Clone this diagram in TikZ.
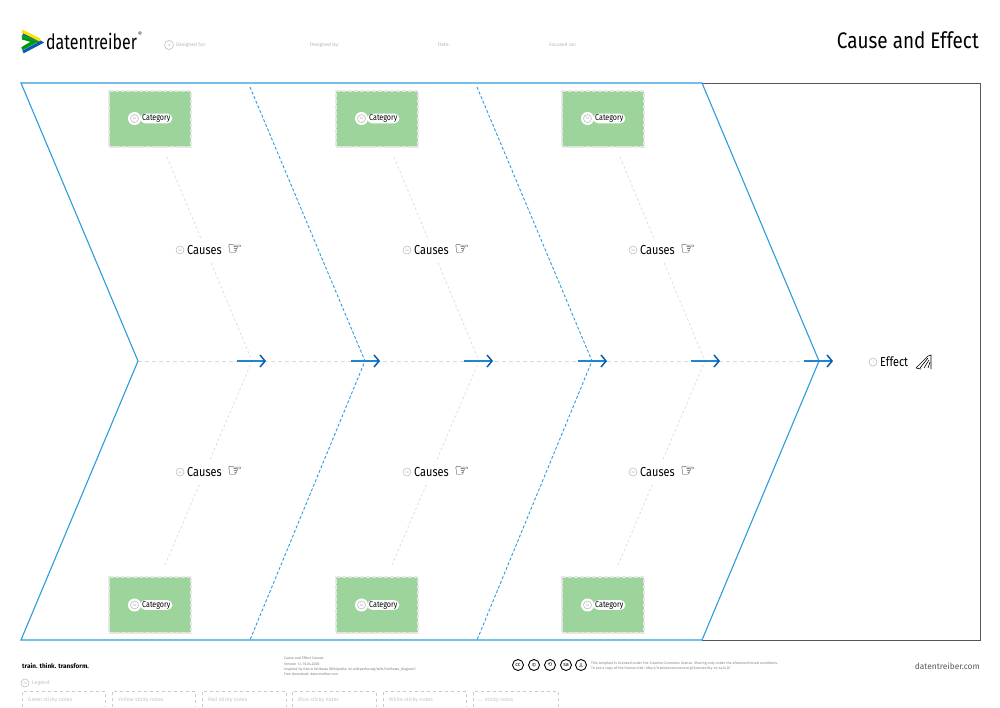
\documentclass[tikz,border=0pt]{standalone}
\usepackage{fontspec}
\setmainfont{Fira Sans}
\newfontfamily\symfont{DejaVu Sans}
\newfontfamily\narrowfont[FakeStretch=0.84]{Fira Sans}
\newfontfamily\logofont[FakeStretch=0.76]{Fira Sans}
\usetikzlibrary{arrows.meta}
\definecolor{lineblue}{HTML}{2E9BDC}
\definecolor{shaftblue}{HTML}{1E86CF}
\definecolor{headblue}{HTML}{0A5BB0}
\definecolor{notegreen}{HTML}{9DD49B}
\definecolor{boneGray}{HTML}{DADADA}
\definecolor{edgeGray}{HTML}{E6E6E6}
\definecolor{faint}{HTML}{B5B5B5}
\definecolor{frameGray}{HTML}{555555}
\newcommand{\fs}[1]{\fontsize{#1}{#1}\selectfont}
\newcommand{\moreNotes}{... sticky notes}
\tikzset{
  x=1pt,y=-1pt,
  outline/.style={line width=1.1pt,draw=lineblue},
  ribdash/.style={line width=.9pt,draw=lineblue,dash pattern=on 3pt off 2pt},
  bone/.style={line width=.7pt,draw=boneGray,dash pattern=on 2.5pt off 2.5pt},
  spine/.style={line width=.7pt,draw=boneGray,dash pattern=on 4pt off 3pt},
  flow/.style={line width=1.5pt,draw=shaftblue,-{Straight Barb[color=headblue,length=5pt,width=12pt,line width=1.5pt]}},
  notebox/.style={rectangle,fill=notegreen,draw=edgeGray,line width=2.4pt,dash pattern=on 4.5pt off 1.5pt,minimum width=82pt,minimum height=56pt,inner sep=0pt},
  chip/.style={fill=white,rounded corners=5pt,inner xsep=2pt,inner ysep=1pt,font=\narrowfont\fs{8.5},text=black},
  num/.style={circle,draw=faint,line width=.5pt,minimum size=#1,inner sep=0pt,font=\fs{3.5},text=faint,fill=white},
  num/.default=8pt,
  blank/.style={fill=white,inner sep=1pt,font=\narrowfont\fs{13},text=black},
  head/.style={inner sep=0pt,font=\fs{5},text=faint,anchor=west},
  tiny/.style={inner sep=0pt,text=faint!70!black,anchor=north west,align=left,font=\fontsize{3.6}{5.2}\selectfont},
  legendbox/.style={line width=.6pt,draw=faint!70,dash pattern=on 3pt off 3pt},
  legendtext/.style={inner sep=0pt,font=\fs{5.3},text=faint!80,anchor=west},
  ccicon/.style={circle,draw=black,line width=.9pt,minimum size=11pt,inner sep=0pt,font=\fs{5.5},text=black},
}
\begin{document}
\begin{tikzpicture}
\useasboundingbox (0,0) rectangle (1000,707);
% frame
\coordinate (tl) at (21,83); \coordinate (bl) at (21,640);
\coordinate (tail) at (138,361); \coordinate (tip) at (819,361);
\coordinate (tr) at (702,83); \coordinate (br) at (702,640);
\draw[line width=.9pt,draw=frameGray] (tr) -- (980,83) -- (980,640) -- (br);
\draw[spine] (tail) -- (tip);
\draw[outline] (tail) -- (tl) -- (tr) -- (tip) -- (br) -- (bl) -- cycle;
% dashed ribs
\foreach \n/\dx in {a/0,b/227}{
  \coordinate (rt\n) at (250+\dx,87);
  \coordinate (rm\n) at (365+\dx,361);
  \coordinate (rb\n) at (250+\dx,640);
  \draw[ribdash] (rt\n) -- (rm\n) -- (rb\n);
}
% bones, boxes and labels
\foreach \n/\dx in {a/0,b/227,c/453}{
  \coordinate (bt\n) at (167+\dx,157);
  \coordinate (bb\n) at (165+\dx,565);
  \coordinate (bm\n) at (252+\dx,361);
  \draw[bone] (bt\n) -- (bm\n);
  \draw[bone] (bb\n) -- (bm\n);
  \node[notebox] (top\n) at (150+\dx,119) {};
  \node[notebox] (bot\n) at (150+\dx,605) {};
  \foreach \r/\y in {top/118.5,bot/605}{
    \node[chip,anchor=west] (cat\r\n) at (140+\dx,\y) {Category};
    \node[num=12pt,draw=white,line width=1pt] (cout\r\n) at (134.5+\dx,\y) {};
    \node[num=8pt] (cnum\r\n) at (134.5+\dx,\y) {2a};
  }
  \foreach \r/\y in {up/250,lo/472}{
    \node[blank,anchor=west,minimum height=22pt] (cau\r\n) at (186+\dx,\y) {Causes};
    \node[num=8pt] (nnum\r\n) at (180+\dx,\y) {3a};
    \node[inner sep=0pt,font=\symfont\fs{17},fill=white] (hand\r\n) at (235+\dx,\y) {☞};
  }
}
% flow arrows
\foreach \n/\x in {1/237,2/351,3/464,4/578,5/691,6/804}{
  \coordinate (fs\n) at (\x,361);
  \coordinate (fe\n) at (\x+29,361);
  \draw[flow] (fs\n) -- (fe\n);
}
% effect
\node[blank,anchor=west] (effect) at (879,362) {Effect};
\node[num=8pt] (enum) at (873,362) {1};
\draw[line width=.6pt,black] (916,368) -- (928,356) -- (931,355) -- (931,369);
\draw[line width=.6pt,black] (920,368) -- (928,358) (924,368) -- (929,360) (928,368) -- (930,362);
\draw[line width=.6pt,black] (916,368) -- (921,369);
% logo
\draw[line width=3pt,draw=headblue] (23,34) -- (41,42.5) -- (23,52);
\draw[line width=3pt,draw=lineblue!40!green!70!black] (22,49) -- (36,41.5) -- (22,36);
\draw[line width=3pt,draw=yellow!85!orange] (22,31) -- (40,40);
\draw[line width=2pt,draw=green!60!black] (22,38.5) -- (33,41.5) -- (22,48);
\node[inner sep=0pt,anchor=west,font=\logofont\fs{21},text=black] (logo) at (46,41) {datentreiber};
\node[inner sep=0pt,font=\fs{6},text=black] (reg) at (140,34) {®};
% header
\node[num=9pt] (n1) at (169,45) {1a};
\node[head] (h1) at (176,45) {Designed for:};
\node[head] (h2) at (310,45) {Designed by:};
\node[head] (h3) at (438,45) {Date:};
\node[head] (h4) at (549,45) {Focused on:};
\node[inner sep=0pt,anchor=east,font=\narrowfont\fs{22.5},text=black] (title) at (979,40) {Cause and Effect};
% footer
\node[inner sep=0pt,anchor=west,font=\bfseries\fs{6.4},text=black] (slogan) at (22,666) {train. think. transform.};
\node[tiny] (meta) at (284,657) {Cause and Effect Canvas\\Version 1.1, 10.04.2020\\Inspired by Kaoru Ishikawa (Wikipedia: en.wikipedia.org/wiki/Ishikawa\_diagram)\\Free download: datentreiber.com};
\foreach \n/\x/\t in {1/518/cc,2/534/\copyright,3/550/\symfont⟲,4/566/sa,5/581/\symfont♙}{
  \node[ccicon] (cc\n) at (\x,665) {\t};
}
\node[tiny] (lic) at (591,661) {This template is licensed under the Creative Commons license. Sharing only under the aforementioned conditions.\\To see a copy of the license visit: http://creativecommons.org/licenses/by-nc-sa/4.0/};
\node[inner sep=0pt,anchor=east,font=\fs{8.4},text=black!65] (site) at (980,666) {datentreiber.com};
% legend
\node[num=8pt] (n7) at (25,683) {7a};
\node[legendtext] (leg) at (32,683) {Legend:};
\foreach \n/\a/\b/\t in {1/22/105/Green sticky notes,2/112/195/Yellow sticky notes,3/202/286/Red sticky notes,4/292/376/Blue sticky notes,5/383/466/White sticky notes,6/473/558/\moreNotes}{
  \coordinate (la\n) at (\a,707);
  \coordinate (lb\n) at (\b,707);
  \draw[legendbox] (la\n) -- (\a,691) -- (\b,691) -- (lb\n);
  \node[legendtext] (lt\n) at (\a+6,699.5) {\t};
}
\end{tikzpicture}
\end{document}
